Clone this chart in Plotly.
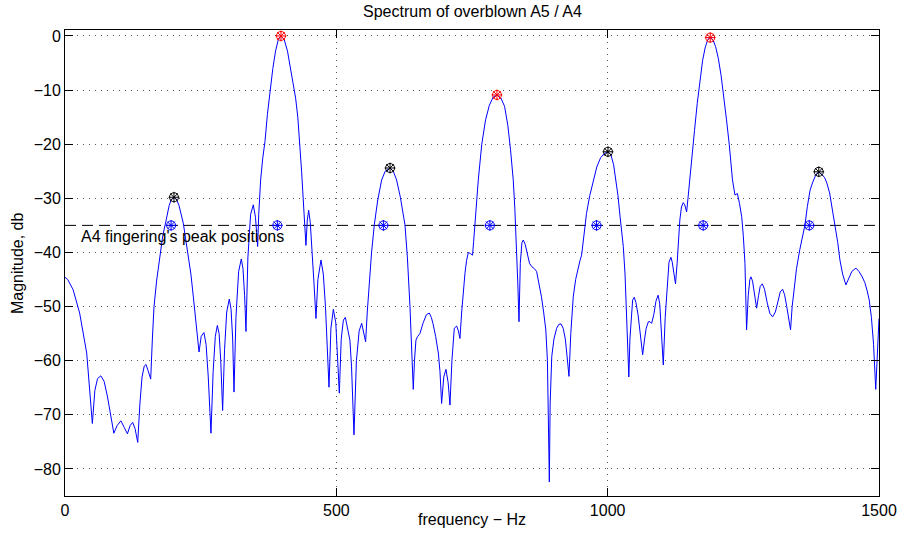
import plotly.graph_objects as go

# ---------------- data ----------------
freq = [0, 5, 15, 27, 40, 47, 50.4, 55, 60, 66, 72, 78, 84, 90, 96, 103, 109, 115, 120, 124.7, 129, 134,
        138, 142, 146, 149.3, 153, 157.9, 161, 164, 169, 175, 180, 186, 192, 196, 200.8, 205, 210, 218,
        227, 232, 236.5, 241, 244, 247, 251, 256, 260, 264, 269, 273, 277, 280.7, 284, 287, 290.5, 294,
        298, 302.8, 306, 309, 311.4, 315, 320, 324.9, 328, 331, 333.5, 337, 342, 347, 351, 355, 357,
        360.5, 364.5, 368.5, 373, 377.7, 383, 388, 393, 398, 404, 410, 416, 421, 425, 429, 433, 436,
        438, 441, 444, 446.5, 449, 452, 456, 459, 462.5, 466, 471.7, 476, 480, 483, 486.5, 490, 494.5,
        499, 502, 505.5, 509, 513, 516.6, 520, 525, 528, 532.5, 537, 542, 546.7, 550, 554, 557, 560,
        565, 570, 576, 583.5, 590, 599, 605, 611, 618, 626.5, 631, 635.7, 639, 641.8, 644, 646.7, 650,
        654, 660, 666, 671.3, 675, 678, 683, 688, 691, 694, 698, 702, 706, 709.4, 713, 717.4, 721.7,
        725, 727.8, 731, 734, 737, 740, 743.2, 747, 751, 753, 755.5, 758, 761.6, 768, 775, 782, 789,
        796, 803, 810, 816, 821, 826, 829, 832, 834.5, 836.6, 839, 842, 844.5, 848, 852, 856, 860, 865,
        869, 873, 878, 882, 886, 889, 891, 892.5, 894, 897, 901, 906, 910, 914, 918, 922, 925, 928.7,
        932, 936.6, 941, 945.8, 949, 952, 956, 961, 967, 973.5, 980, 987, 994, 1000.6, 1006, 1011,
        1015.3, 1019, 1023, 1026, 1028.8, 1032, 1035, 1037, 1039, 1041, 1044, 1046, 1049, 1052, 1056,
        1060, 1064.5, 1068, 1071, 1075, 1078, 1081, 1085, 1089, 1093, 1096, 1099, 1102.5, 1106, 1110,
        1113, 1116.6, 1119, 1122, 1125, 1128, 1131, 1133, 1136, 1139.3, 1142, 1145.5, 1148, 1151.6,
        1156, 1160, 1165, 1170, 1175, 1180, 1185, 1189, 1194, 1199, 1204, 1209, 1214, 1219, 1224,
        1230, 1234.6, 1239, 1243, 1247, 1250, 1253, 1256, 1259, 1262, 1264, 1267, 1271, 1274.5, 1278,
        1281, 1285, 1289, 1294, 1299, 1304, 1309, 1314, 1318, 1322.4, 1326, 1330, 1334, 1337, 1340,
        1343, 1348, 1354, 1359, 1363.6, 1368, 1373, 1378, 1383, 1389, 1395, 1400, 1404, 1409, 1414,
        1419, 1424, 1428, 1433, 1439, 1444, 1450, 1457.5, 1463, 1469, 1474, 1478, 1482, 1486, 1490,
        1494, 1497, 1500]

magnitude = [-44.6, -45.0, -46.9, -51.2, -58.6, -66.6, -71.6, -65.5, -63.3, -62.8, -63.8, -66.5, -70, -73.4,
             -72, -71.1, -72.3, -73.5, -72, -71.4, -72.5, -75.1, -68, -63, -61, -60.7, -61.8, -63.4, -56,
             -50, -45.1, -40.2, -37, -34.2, -31.3, -30.2, -29.8, -30.1, -31.3, -34.6, -40.2, -44, -48.2,
             -53, -56, -58.4, -55.5, -54.8, -57, -63, -73.4, -62, -55.5, -53.5, -55, -60, -69.2, -58,
             -51, -48.6, -50.5, -56, -65.8, -52, -43.5, -41.2, -43, -48, -54.6, -41, -33, -31.2, -33.5,
             -38.9, -33, -26.6, -22.5, -19.5, -14.5, -10, -6, -2.8, -0.7, 0, -0.7, -2.8, -6.3, -9,
             -11.5, -15, -20, -25, -28.5, -34, -38.7, -34, -32.2, -34.5, -40, -46, -52.2, -45, -41.4,
             -44, -50, -57, -64.9, -54, -50.5, -53, -58, -66, -56, -52.5, -52, -53.5, -56.2, -61,
             -73.7, -60, -54.5, -53.1, -54.5, -56.5, -51, -46, -39.9, -34.9, -30.5, -26.6, -25, -24.4,
             -25, -26.6, -29.8, -34.9, -41, -50, -58, -65.3, -60, -56.2, -55.5, -55, -53, -51.5, -51.2,
             -52, -53.1, -55.5, -58.6, -62, -67.9, -63, -61.6, -64, -68.2, -60, -54, -53.6, -54.5,
             -55.9, -51, -47, -43.9, -41.5, -40, -40.2, -40.5, -38, -34.9, -30.5, -26.6, -20, -15.5,
             -12.8, -11.3, -10.9, -11.4, -13, -16.5, -21, -26.6, -32, -38.9, -46, -52.8, -42, -38.2,
             -37.7, -38.5, -40.5, -42, -42.6, -43, -43.5, -45.5, -48.2, -51, -54.3, -60, -70, -82.4,
             -68, -59.2, -56, -54, -53.3, -53.2, -54, -56, -59, -62.9, -55, -48.2, -45, -42.6, -41.5,
             -40.5, -37, -32.8, -29.5, -26.6, -24.2, -22.5, -21.7, -21.4, -22, -23.8, -26.6, -29.5,
             -33.5, -36.5, -38.9, -44, -51.2, -57, -63, -56, -50.5, -48.8, -48.3, -49.2, -51.5, -55,
             -58.9, -56, -54, -52.8, -52.8, -53.1, -51.5, -49, -47.9, -49.5, -54, -60.8, -52, -45.1,
             -41.8, -40.9, -41.8, -43.8, -45.8, -42, -37, -34, -31.6, -30.8, -31.2, -32.5, -30, -26.6,
             -21.5, -17.5, -12.5, -8, -4.5, -2, -0.6, -0.3, -0.7, -2, -4.2, -7.3, -11, -15.5, -20,
             -26.6, -29.4, -29.1, -31, -33.4, -37, -42, -54.3, -48, -45, -44.5, -45.3, -48, -50.3,
             -48, -46.3, -45.8, -46.8, -49.3, -51.3, -51.9, -51, -49, -47.3, -46.8, -47.8, -50, -52.5,
             -54.3, -50, -46.9, -43, -39.5, -37, -34.9, -31.5, -28.5, -27, -25.8, -25.1, -25.6, -26.2,
             -27.2, -29, -31.8, -34.9, -38.2, -41.4, -44, -46, -45, -43.5, -42.9, -43.5, -44.5, -45.6,
             -47, -48.8, -52, -57, -65.3, -57, -52.2]

odd_peak_freq = [200.8, 599, 1000.6, 1389]
odd_peak_mag = [-29.8, -24.4, -21.4, -25.1]
even_peak_freq = [398, 796, 1189]
even_peak_mag = [0, -10.9, -0.3]
a4_peak_freq = [195.5, 391.3, 586.7, 783, 979.5, 1176, 1371.5]
a4_level = -35

x_ticks = [0, 500, 1000, 1500]
y_ticks = [0, -10, -20, -30, -40, -50, -60, -70, -80]

title_text = "Spectrum of overblown A5 / A4"
x_label = "frequency \u2212 Hz"
y_label = "Magnitude, db"
note_text = "A4 fingering's peak positions"

FONT = "Liberation Sans, Arial, Helvetica, sans-serif"
FS = 16

fig = go.Figure()

# dashed reference line
fig.add_trace(go.Scatter(x=[x_ticks[0], x_ticks[-1]], y=[a4_level, a4_level], mode="lines",
                         line=dict(color="black", width=1, dash="11px,6px"),
                         hoverinfo="skip", showlegend=False))

fig.add_trace(go.Scatter(x=freq, y=magnitude, mode="lines",
                         line=dict(color="#0000ff", width=1), showlegend=False))


def add_markers(xs, ys, color):
    for sym in ["circle-open", "asterisk-open"]:
        fig.add_trace(go.Scatter(x=xs, y=ys, mode="markers", showlegend=False,
                                 marker=dict(symbol=sym, size=9, color=color,
                                             line=dict(color=color, width=1))))


add_markers(odd_peak_freq, odd_peak_mag, "black")
add_markers(even_peak_freq, even_peak_mag, "#ff0000")
add_markers(a4_peak_freq, [a4_level] * len(a4_peak_freq), "#0000ff")

axis_common = dict(showline=True, linecolor="black", linewidth=1, mirror="ticks",
                   ticks="inside", ticklen=8, tickcolor="black", tickwidth=1,
                   showgrid=True, gridcolor="#555555", griddash="1px,5px", gridwidth=1,
                   zeroline=False, automargin=False, ticklabeloverflow="allow",
                   tickfont=dict(family=FONT, size=FS, color="black"))

fig.update_xaxes(range=[0, 1500], tickvals=x_ticks, ticktext=[str(v) for v in x_ticks],
                 **axis_common)
fig.update_yaxes(range=[-85, 1.1], tickvals=y_ticks, **axis_common)

fig.update_layout(
    width=899, height=540,
    margin=dict(l=65, r=20, t=30, b=44, autoexpand=False),
    paper_bgcolor="white", plot_bgcolor="white",
    font=dict(family=FONT, size=FS, color="black"),
    annotations=[
        dict(text=title_text, x=0.5, xref="paper", y=1, yref="paper", yshift=19,
             showarrow=False, xanchor="center", yanchor="middle", font=dict(size=FS)),
        dict(text=x_label, x=0.5, xref="paper", y=0, yref="paper", yshift=-23,
             showarrow=False, xanchor="center", yanchor="middle", font=dict(size=FS)),
        dict(text=y_label, x=0, xref="paper", y=0.5, yref="paper", xshift=-48,
             showarrow=False, xanchor="center", yanchor="middle", textangle=-90,
             font=dict(size=FS)),
        dict(text=note_text, x=25.8, xref="x", y=a4_level, yref="y", yshift=-1,
             showarrow=False, xanchor="left", yanchor="top", font=dict(size=FS)),
    ],
)

fig.write_html("out.html")
